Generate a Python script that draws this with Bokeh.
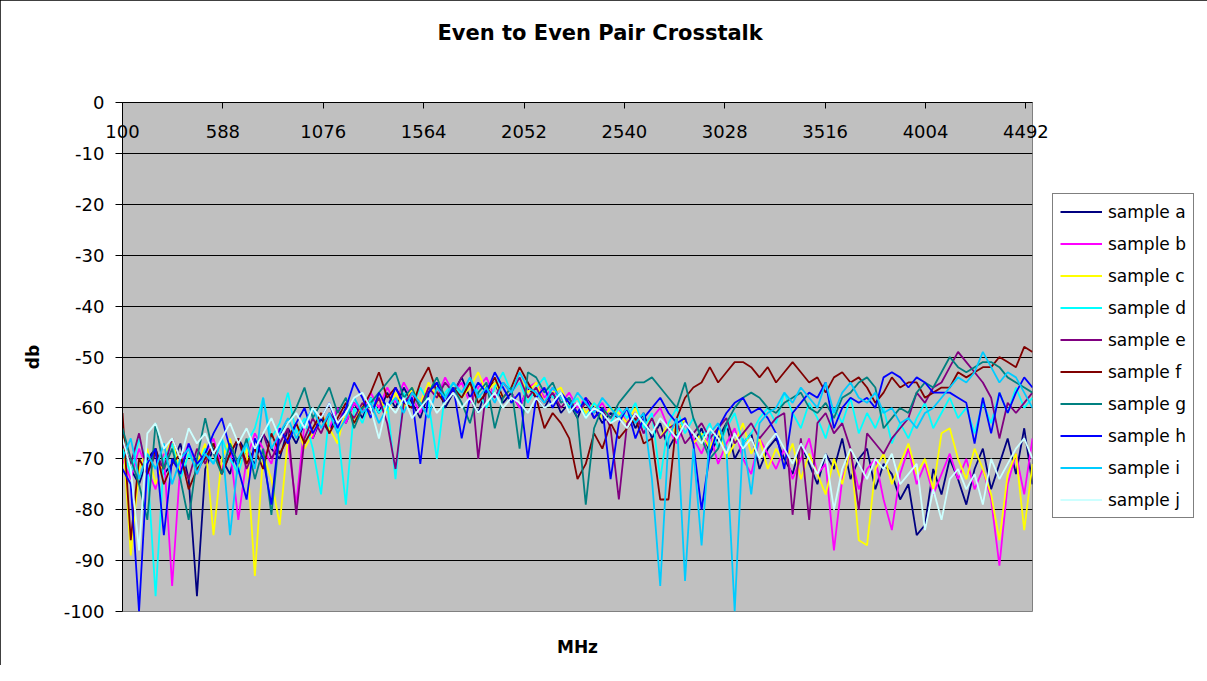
import numpy as np
from bokeh.plotting import figure
from bokeh.models import Range1d, FixedTicker, Legend, LegendItem, LinearAxis
from bokeh.embed import file_html
from bokeh.resources import INLINE

# ---------------- data ----------------
x_tick_labels = [100, 588, 1076, 1564, 2052, 2540, 3028, 3516, 4004, 4492]
y_ticks = [0, -10, -20, -30, -40, -50, -60, -70, -80, -90, -100]
freq_start, freq_end = 100, 4524

series_names = ["sample a", "sample b", "sample c", "sample d", "sample e",
                "sample f", "sample g", "sample h", "sample i", "sample j"]
series_colors = ["#000080", "#FF00FF", "#FFFF00", "#00FFFF", "#800080",
                 "#800000", "#008080", "#0000FF", "#00CCFF", "#CCFFFF"]

sample_a = [-66, -72, -75, -70, -68, -73, -71, -67, -74, -97,
            -72, -68, -70, -73, -66, -69, -71, -65, -68, -70,
            -64, -67, -63, -66, -62, -65, -60, -63, -59, -62,
            -58, -61, -57, -60, -56, -59, -62, -57, -55, -60,
            -57, -54, -58, -61, -56, -55, -59, -57, -60, -56,
            -58, -60, -57, -61, -59, -62, -58, -60, -63, -61,
            -62, -60, -64, -61, -66, -63, -68, -65, -62, -67,
            -64, -69, -66, -63, -70, -67, -65, -72, -68, -66,
            -70, -73, -67, -71, -75, -69, -72, -66, -74, -70,
            -68, -76, -71, -73, -78, -75, -85, -83, -72, -77,
            -70, -74, -79, -72, -68, -76, -71, -66, -73, -64, -75]
sample_b = [-70, -74, -68, -72, -76, -69, -95, -71, -67, -73,
            -69, -66, -72, -68, -82, -70, -65, -68, -71, -64,
            -67, -79, -63, -66, -61, -64, -60, -63, -59, -61,
            -57, -60, -56, -59, -55, -58, -61, -56, -58, -54,
            -57, -55, -59, -56, -54, -58, -55, -57, -60, -56,
            -55, -58, -56, -59, -57, -60, -58, -61, -59, -62,
            -60, -63, -61, -65, -62, -60, -64, -67, -63, -66,
            -69, -65, -71, -67, -64, -70, -73, -66, -69, -72,
            -68, -74, -70, -66, -73, -71, -88, -74, -69, -76,
            -72, -70, -78, -84, -73, -68, -75, -71, -77, -73,
            -69, -74, -70, -76, -72, -78, -91, -75, -69, -77, -66]
sample_c = [-64, -89, -72, -68, -75, -70, -66, -73, -69, -71,
            -67, -85, -70, -66, -72, -68, -93, -69, -74, -83,
            -66, -63, -68, -65, -61, -64, -67, -60, -63, -59,
            -62, -58, -61, -57, -60, -56, -59, -55, -58, -57,
            -55, -58, -56, -53, -57, -55, -58, -56, -54, -57,
            -55, -59, -57, -56, -60, -58, -61, -59, -62, -60,
            -61, -63, -60, -64, -62, -66, -63, -65, -62, -67,
            -65, -68, -64, -70, -67, -63, -69, -66, -72, -68,
            -71, -67, -74, -69, -73, -77, -70, -75, -68, -86,
            -87, -72, -69, -75, -71, -67, -73, -70, -76, -65,
            -64, -70, -74, -68, -72, -77, -86, -73, -69, -84, -71]
sample_d = [-68, -73, -66, -71, -97, -70, -67, -74, -69, -72,
            -68, -71, -66, -70, -73, -67, -64, -58, -66, -63,
            -57, -65, -62, -68, -77, -61, -64, -79, -60, -63,
            -58, -61, -59, -74, -57, -60, -56, -59, -70, -57,
            -55, -58, -54, -57, -60, -56, -53, -57, -55, -59,
            -56, -54, -58, -57, -60, -58, -62, -59, -61, -63,
            -60, -62, -59, -64, -61, -74, -63, -60, -65, -62,
            -66, -63, -68, -64, -61, -67, -65, -62, -60, -63,
            -57, -61, -64, -59, -62, -66, -60, -63, -58, -65,
            -61, -64, -60, -67, -63, -66, -62, -59, -64, -61,
            -58, -62, -60, -65, -59, -63, -57, -61, -56, -60, -58]
sample_e = [-67, -71, -65, -73, -69, -72, -66, -70, -74, -68,
            -71, -67, -73, -69, -66, -72, -68, -65, -70, -67,
            -64, -81, -66, -62, -65, -61, -63, -60, -62, -59,
            -61, -58, -63, -72, -59, -57, -60, -56, -58, -55,
            -57, -54, -52, -70, -56, -58, -55, -57, -54, -58,
            -56, -59, -57, -60, -58, -61, -59, -62, -60, -64,
            -78, -63, -61, -65, -62, -66, -64, -63, -67, -65,
            -63, -66, -64, -62, -67, -65, -63, -66, -64, -62,
            -61, -81, -66, -82, -63, -61, -65, -63, -68, -80,
            -65, -67, -69, -66, -64, -62, -57, -59, -56, -55,
            -52, -49, -51, -53, -55, -58, -66, -59, -61, -59, -57]
sample_f = [-61, -86, -70, -73, -68, -75, -71, -69, -76, -72,
            -70, -67, -73, -69, -66, -71, -68, -72, -65, -69,
            -66, -63, -67, -64, -61, -65, -62, -59, -63, -60,
            -57, -53, -58, -56, -59, -60, -55, -52, -57, -59,
            -56, -58, -55, -59, -57, -54, -58, -56, -52, -55,
            -58, -64, -61, -63, -66, -74, -71, -65, -68, -63,
            -66, -64, -62, -67, -66, -78, -78, -62, -58, -56,
            -55, -52, -55, -53, -51, -51, -52, -54, -52, -55,
            -53, -51, -53, -55, -54, -57, -54, -53, -55, -54,
            -56, -59, -57, -54, -56, -55, -55, -58, -57, -56,
            -56, -53, -54, -53, -52, -52, -50, -51, -52, -48, -49]
sample_g = [-64, -70, -75, -82, -63, -72, -68, -74, -82, -70,
            -62, -69, -73, -67, -71, -66, -74, -68, -81, -65,
            -63, -60, -56, -62, -59, -56, -61, -58, -64, -60,
            -59, -57, -55, -53, -58, -56, -60, -57, -54, -58,
            -56, -59, -63, -57, -55, -64, -58, -56, -68, -53,
            -54, -57, -55, -59, -58, -62, -79, -64, -60, -62,
            -59, -57, -55, -55, -54, -56, -58, -60, -55, -62,
            -66, -70, -68, -63, -60, -58, -57, -58, -60, -61,
            -59, -58, -57, -60, -61, -59, -62, -58, -57, -55,
            -54, -56, -64, -62, -60, -61, -57, -55, -56, -53,
            -50, -52, -53, -52, -51, -51, -52, -54, -55, -56, -57]
sample_h = [-72, -75, -100, -71, -68, -85, -70, -73, -67, -71,
            -69, -65, -62, -68, -72, -78, -66, -70, -79, -64,
            -67, -63, -60, -65, -62, -59, -64, -60, -55, -58,
            -62, -57, -60, -56, -59, -58, -71, -57, -55, -59,
            -56, -66, -58, -55, -57, -53, -56, -59, -57, -70,
            -58, -56, -60, -57, -59, -61, -58, -62, -60, -74,
            -63, -60, -66, -62, -60, -58, -61, -63, -62, -67,
            -80, -69, -64, -61, -59, -58, -61, -60, -62, -65,
            -72, -61, -59, -57, -58, -55, -64, -60, -58, -59,
            -58, -60, -54, -53, -54, -56, -54, -55, -57, -57,
            -57, -58, -59, -67, -58, -65, -57, -61, -57, -54, -56]
sample_i = [-70, -66, -74, -69, -72, -67, -75, -70, -68, -73,
            -69, -71, -66, -85, -70, -67, -72, -58, -68, -65,
            -62, -66, -63, -60, -64, -61, -65, -62, -58, -61,
            -59, -63, -60, -58, -61, -57, -59, -62, -56, -58,
            -55, -57, -54, -58, -56, -59, -55, -57, -53, -56,
            -57, -59, -56, -58, -60, -57, -59, -61, -58, -60,
            -62, -60, -63, -61, -74, -95, -66, -62, -94, -68,
            -87, -65, -63, -68, -100, -66, -77, -63, -61, -60,
            -57, -59, -56, -58, -60, -55, -61, -57, -55, -58,
            -59, -57, -61, -60, -63, -62, -64, -61, -60, -58,
            -56, -54, -55, -53, -49, -52, -55, -53, -54, -57, -60]
sample_j = [-66, -72, -88, -65, -63, -68, -66, -70, -64, -67,
            -65, -69, -66, -63, -67, -64, -68, -65, -62, -66,
            -63, -61, -64, -60, -62, -59, -63, -61, -58, -57,
            -60, -66, -59, -61, -58, -62, -60, -58, -61, -59,
            -57, -60, -58, -61, -59, -57, -60, -58, -59, -61,
            -58, -60, -59, -57, -61, -59, -62, -60, -61, -63,
            -62, -64, -61, -63, -65, -62, -64, -66, -63, -65,
            -67, -64, -66, -69, -65, -68, -66, -70, -67, -65,
            -68, -71, -67, -70, -73, -69, -80, -72, -68, -71,
            -74, -70, -72, -69, -75, -73, -71, -84, -76, -82,
            -74, -72, -76, -73, -79, -70, -74, -71, -68, -66, -70]

series_values = [sample_a, sample_b, sample_c, sample_d, sample_e,
                 sample_f, sample_g, sample_h, sample_i, sample_j]

# ---------------- figure ----------------
FONT = "DejaVu Sans"

p = figure(frame_width=910, frame_height=509,
           x_range=Range1d(freq_start, freq_end), y_range=Range1d(-100, 0),
           x_axis_location="above",
           output_backend="svg", toolbar_location=None,
           min_border_left=122, min_border_right=159,
           min_border_top=102, min_border_bottom=54,
           background_fill_color="#C0C0C0", border_fill_color="white",
           outline_line_color="#808080", outline_line_width=1,
           title="Even to Even Pair Crosstalk")
p.styles = {"outline": "1px solid black", "outline-offset": "-1px"}

p.title.align = "left"
p.title.offset = 315
p.title.text_font = FONT
p.title.text_font_size = "21px"
p.title.text_font_style = "bold"
p.title.text_color = "black"
p.title.standoff = 37

# top x axis (category labels hang below the 0 line)
xa = p.xaxis[0]
xa.ticker = FixedTicker(ticks=x_tick_labels)
xa.major_tick_in = 6
xa.major_tick_out = 0
xa.minor_tick_line_color = None
xa.axis_line_color = "black"
xa.major_tick_line_color = "black"
xa.major_label_standoff = -35
xa.major_label_text_font = FONT
xa.major_label_text_font_size = "18px"
xa.major_label_text_color = "black"

# empty white band between the top axis and the title
spacer = LinearAxis(ticker=FixedTicker(ticks=[]), axis_line_color=None,
                    major_tick_line_color=None, minor_tick_line_color=None,
                    major_tick_out=0, major_tick_in=0,
                    minor_tick_out=0, minor_tick_in=0,
                    major_label_text_font_size="0px", major_label_standoff=0,
                    axis_label=" ", axis_label_standoff=12,
                    axis_label_text_font=FONT,
                    axis_label_text_font_size="21px")
p.add_layout(spacer, "above")

# bottom axis only for the "MHz" title
bx = LinearAxis(ticker=FixedTicker(ticks=[]), axis_label="MHz",
                axis_line_color=None, major_tick_line_color=None,
                minor_tick_line_color=None, major_tick_out=0, major_tick_in=0,
                minor_tick_out=0, minor_tick_in=0,
                major_label_text_font_size="0px", major_label_standoff=0,
                axis_label_standoff=25, axis_label_text_font=FONT,
                axis_label_text_font_size="17px",
                axis_label_text_font_style="bold",
                axis_label_text_color="black")
p.add_layout(bx, "below")

ya = p.yaxis[0]
ya.ticker = FixedTicker(ticks=y_ticks)
ya.major_label_overrides = {t: str(t) for t in y_ticks}
ya.major_tick_out = 7
ya.major_tick_in = 0
ya.minor_tick_line_color = None
ya.axis_line_color = "black"
ya.major_tick_line_color = "black"
ya.major_label_standoff = 11
ya.major_label_text_font = FONT
ya.major_label_text_font_size = "18px"
ya.major_label_text_color = "black"
ya.axis_label = "db"
ya.axis_label_text_font = FONT
ya.axis_label_text_font_size = "17px"
ya.axis_label_text_font_style = "bold"
ya.axis_label_text_color = "black"
ya.axis_label_standoff = 18

p.xgrid.visible = False
p.ygrid.ticker = FixedTicker(ticks=y_ticks)
p.ygrid.grid_line_color = "black"
p.ygrid.grid_line_width = 1

items = []
for name, color, vals in zip(series_names, series_colors, series_values):
    xs = np.linspace(freq_start, freq_end, len(vals))
    r = p.line(xs, vals, line_color=color, line_width=1.8)
    items.append(LegendItem(label=name, renderers=[r]))

legend = Legend(items=items, location=(20, 93), margin=0, padding=7,
                spacing=11, glyph_width=42, glyph_height=21, label_height=21,
                label_standoff=6, label_text_font=FONT,
                label_text_font_size="17px", label_text_color="black",
                border_line_color="black", border_line_width=1,
                background_fill_color="white", background_fill_alpha=1)
p.add_layout(legend, "right")

open("out.html", "w").write(file_html(p, INLINE))
